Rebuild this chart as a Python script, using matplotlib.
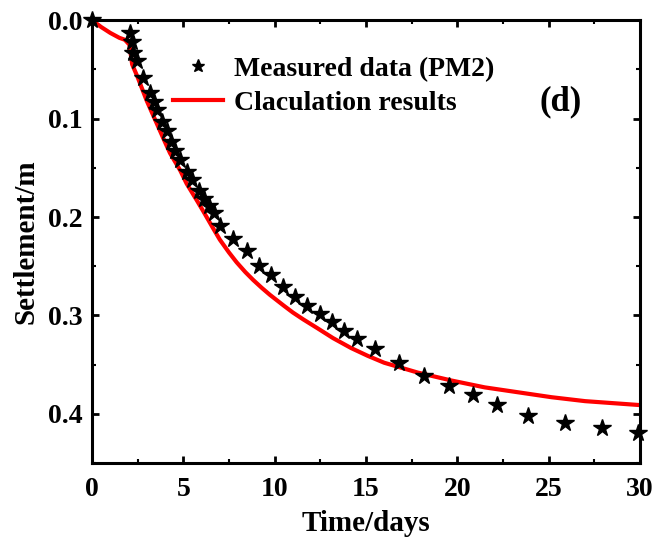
import numpy as np
import matplotlib
matplotlib.use("Agg")
import matplotlib.pyplot as plt
from matplotlib.ticker import MultipleLocator

# -----------------------
# Data
# -----------------------
measured_days = [0.0, 2.09, 2.18, 2.27, 2.46, 2.82, 3.19, 3.37, 3.55, 3.83,
                 4.10, 4.30, 4.55, 4.84, 5.20, 5.48, 5.84, 6.12, 6.39, 6.66,
                 7.03, 7.73, 8.50, 9.14, 9.78, 10.46, 11.12, 11.79, 12.47, 13.13,
                 13.81, 14.49, 15.49, 16.80, 18.17, 19.52, 20.86, 22.20, 23.88, 25.90,
                 27.90, 29.90]
measured_settle = [0.0, 0.013, 0.022, 0.033, 0.042, 0.059, 0.074, 0.083, 0.091, 0.103,
                   0.113, 0.124, 0.133, 0.142, 0.154, 0.162, 0.174, 0.182, 0.189, 0.196,
                   0.209, 0.222, 0.235, 0.250, 0.259, 0.271, 0.281, 0.290, 0.299, 0.307,
                   0.316, 0.324, 0.334, 0.348, 0.361, 0.372, 0.381, 0.391, 0.402, 0.409,
                   0.414, 0.419]

calc_days = [0.0, 0.5, 1.0, 1.5, 1.8, 2.05, 2.2, 2.5, 3.0, 3.5, 4.0, 4.27, 4.84,
             5.18, 5.77, 6.09, 6.65, 7.0, 7.5, 7.92, 8.4, 8.83, 9.3, 9.74, 10.5,
             11.0, 11.57, 12.35, 13.2, 14.18, 15.1, 16.0, 17.84, 19.67, 21.5, 23.33,
             25.16, 27.0, 28.5, 30.0]
calc_settle = [0.0, 0.007, 0.013, 0.018, 0.020, 0.025, 0.045, 0.058, 0.082, 0.103,
               0.124, 0.135, 0.153, 0.166, 0.184, 0.194, 0.212, 0.223, 0.236, 0.246,
               0.256, 0.264, 0.272, 0.279, 0.290, 0.297, 0.304, 0.313, 0.323, 0.333,
               0.341, 0.348, 0.358, 0.366, 0.373, 0.378, 0.383, 0.387, 0.389, 0.391]

plt.rcParams['font.family'] = ['Liberation Serif', 'DejaVu Serif']
plt.rcParams['font.weight'] = 'bold'

fig = plt.figure(figsize=(6.57, 5.43), dpi=100)
ax = fig.add_axes([0.140, 0.147, 0.834, 0.816])

ax.plot(measured_days, measured_settle, linestyle='none', marker='*',
        markersize=13, color='black', label='Measured data (PM2)',
        zorder=3, clip_on=False)
ax.plot(calc_days, calc_settle, color='red', linewidth=3,
        label='Claculation results', zorder=2)

ax.set_xlim(0, 30)
ax.set_ylim(0.45, 0.0)
ax.xaxis.set_major_locator(MultipleLocator(5))
ax.xaxis.set_minor_locator(MultipleLocator(2.5))
ax.yaxis.set_minor_locator(MultipleLocator(0.05))
ax.set_yticks([0.0, 0.1, 0.2, 0.3, 0.4])
ax.set_yticklabels(['0.0', '0.1', '0.2', '0.3', '0.4'])

ax.tick_params(which='both', direction='in', top=True, right=True,
               labelsize=20, pad=7)
ax.tick_params(axis='x', which='both', pad=10)
ax.tick_params(which='major', length=5, width=2)
ax.tick_params(which='minor', length=3, width=1.5)
for lab in ax.get_xticklabels() + ax.get_yticklabels():
    lab.set_fontweight('bold')
for sp in ax.spines.values():
    sp.set_linewidth(2.2)

ax.set_xlabel('Time/days', fontsize=21, fontweight='bold', labelpad=6)
ax.set_ylabel('Settlement/m', fontsize=21, fontweight='bold', labelpad=6)

leg = ax.legend(loc='upper left', bbox_to_anchor=(0.148, 0.918), frameon=False,
                prop={'size': 20, 'weight': 'bold'}, handlelength=1.8,
                handletextpad=0.4, labelspacing=0.32, borderpad=0,
                borderaxespad=0, markerscale=0.75)

ax.text(0.855, 0.815, '(d)', transform=ax.transAxes, fontsize=25,
        fontweight='bold', ha='center', va='center')

fig.savefig('out.png', dpi=100)
